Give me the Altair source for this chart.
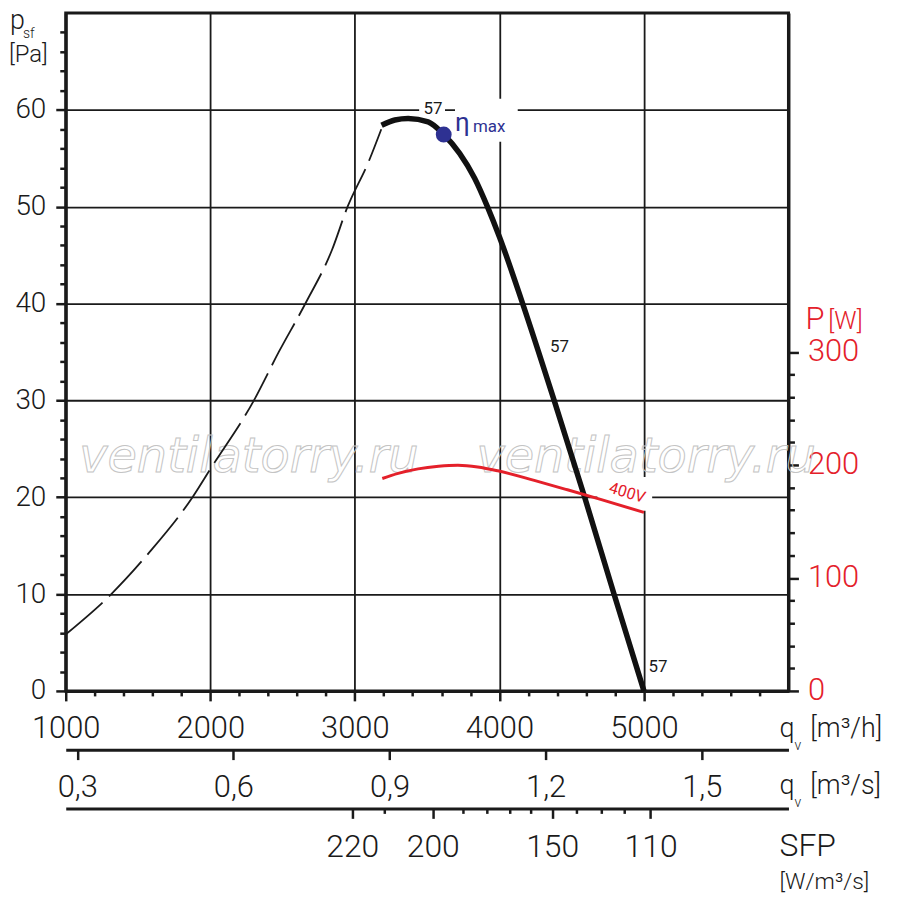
import altair as alt
import pandas as pd

# --- data ---------------------------------------------------------------------
# fan curve p_sf [Pa] over q_v [m3/h], solid (working) part
flow_solid = [3185, 3277, 3369, 3507, 3615, 3725, 3828, 3920, 4000, 4161, 4379, 4590, 4793, 5000]
pres_solid = [58.4, 58.95, 59.1, 58.75, 57.45, 55.5, 52.96, 49.9, 46.9, 40.0, 30.0, 20.0, 10.0, 0.0]

# dashed (stall) part
flow_dash = [1005, 1315, 1578, 1877, 2000, 2302, 2474, 2658, 2841, 2950, 3094, 3183]
pres_dash = [5.9, 10.0, 14.3, 20.0, 22.9, 30.0, 35.0, 40.0, 45.5, 50.0, 54.6, 58.0]

# input power P [W], 400V
flow_power = [3190, 3300, 3438, 3580, 3713, 3850, 3989, 4241, 4471, 4700, 5000]
power_w = [188, 192.5, 196.5, 198.8, 199.7, 198.2, 194.8, 186.3, 178.0, 169.5, 158.0]

# best efficiency point
eta_flow = [3615]
eta_pres = [57.45]

# secondary scales
qs_ticks = [0.3, 0.6, 0.9, 1.2, 1.5]  # m3/s
sfp_flow = [2982, 3202, 3539, 3745, 3911, 4069, 4213, 4365, 4530, 4702, 4867, 5046]
sfp_vals = [220, 210, 200, 190, 180, 170, 160, 150, 140, 130, 120, 110]
sfp_shown = [220, 200, 150, 110]

# "57" curve labels
lab57_flow = [3541, 4416, 5098]
lab57_pres = [60.1, 35.5, 2.5]

# white boxes behind labels (hide the grid there)
mask_x0 = [3445, 3693, 4678]
mask_x1 = [3624, 4127, 5057]
mask_y0 = [59.0, 56.7, 18.6]
mask_y1 = [61.15, 61.15, 22.1]

# watermark
wm_flow = [2267, 5015]
wm_pres = [24.0, 24.0]

# --- styling ------------------------------------------------------------------
W, H = 726, 681
INK = "#1a1a1a"
RED = "#e4202a"
BLUE = "#2e3192"
FONT = "Roboto"

x_scale = alt.Scale(domain=[1000, 6000], nice=False, zero=False)
y_scale = alt.Scale(domain=[0, 70], nice=False)

x_main = alt.X(
    "flow:Q", scale=x_scale, title=None,
    axis=alt.Axis(
        values=list(range(1000, 5801, 200)),
        labelExpr="datum.value % 1000 == 0 ? format(datum.value, 'd') : ''",
        tickSize={"condition": {"test": "datum.value % 1000 == 0", "value": 10}, "value": 5},
        grid=True,
        gridOpacity={"condition": {"test": "datum.value % 1000 == 0", "value": 1}, "value": 0},
        labelFontSize=31, labelPadding=13,
    ),
)
y_main = alt.Y(
    "pres:Q", scale=y_scale, title=None,
    axis=alt.Axis(
        values=list(range(0, 69, 2)),
        labelExpr="datum.value % 10 == 0 ? format(datum.value, 'd') : ''",
        tickSize={"condition": {"test": "datum.value % 10 == 0", "value": 10}, "value": 6},
        grid=True,
        gridOpacity={"condition": {"test": "datum.value % 10 == 0", "value": 1}, "value": 0},
        labelFontSize=28, labelPadding=10,
    ),
)


def px_text(text, x, y, size, color=INK):
    return alt.Chart(pd.DataFrame({"t": [text]})).mark_text(
        align="left", baseline="alphabetic", font=FONT, fontSize=size, fontWeight=300, color=color
    ).encode(x=alt.value(x), y=alt.value(y), text="t:N")


masks = alt.Chart(pd.DataFrame({"flow": mask_x0, "flow2": mask_x1, "pres": mask_y0, "pres2": mask_y1})).mark_rect(
    color="white"
).encode(x=x_main, x2="flow2:Q", y=y_main, y2="pres2:Q")

watermark = alt.Chart(pd.DataFrame({"flow": wm_flow, "pres": wm_pres, "t": ["ventilatorry.ru"] * 2})).mark_text(
    font="DejaVu Sans", fontStyle="italic", fontSize=48, fillOpacity=0, stroke="#c4c4c4", strokeWidth=1
).encode(x=x_main, y=y_main, text="t:N")

dashed = alt.Chart(pd.DataFrame({"flow": flow_dash, "pres": pres_dash})).mark_line(
    color=INK, strokeWidth=1.8, strokeDash=[48, 9], interpolate="monotone"
).encode(x=x_main, y=y_main)

solid = alt.Chart(pd.DataFrame({"flow": flow_solid, "pres": pres_solid})).mark_line(
    color="#111111", strokeWidth=5.5, interpolate="monotone"
).encode(x=x_main, y=y_main)

eta = alt.Chart(pd.DataFrame({"flow": eta_flow, "pres": eta_pres})).mark_circle(
    size=254, color=BLUE, opacity=1
).encode(x=x_main, y=y_main)

eta_text = alt.Chart(pd.DataFrame({"flow": [3693, 3817], "pres": [57.86, 57.76], "t": ["η", "max"], "s": [26, 17]})).mark_text(
    align="left", baseline="alphabetic", font=FONT, color=BLUE
).encode(x=x_main, y=y_main, text="t:N", size=alt.Size("s:Q", scale=None, legend=None))

lab57 = alt.Chart(pd.DataFrame({"flow": lab57_flow, "pres": lab57_pres, "t": ["57"] * 3})).mark_text(
    font=FONT, fontSize=17, color=INK
).encode(x=x_main, y=y_main, text="t:N")

lab400 = alt.Chart(pd.DataFrame({"flow": [4884], "pres": [20.45], "t": ["400V"]})).mark_text(
    font=FONT, fontSize=16, color=RED, angle=17
).encode(x=x_main, y=y_main, text="t:N")

titles = [
    px_text("p", -56, 16, 27),
    px_text("sf", -43, 25, 14),
    px_text("[Pa]", -57, 49, 24),
    px_text("P", 743, 317, 31, RED),
    px_text("[W]", 766, 317, 25, RED),
    px_text("q", 717, 727, 27),
    px_text("v", 732, 740, 14),
    px_text("[m³/h]", 748, 727, 27),
    px_text("q", 717, 785, 27),
    px_text("v", 732, 798, 14),
    px_text("[m³/s]", 748, 785, 27),
    px_text("SFP", 717, 847, 32),
    px_text("[W/m³/s]", 717, 880, 23),
]

main = alt.layer(masks, watermark, dashed, solid, eta, eta_text, lab57, lab400, *titles)

power = alt.Chart(pd.DataFrame({"flow": flow_power, "w": power_w})).mark_line(
    color=RED, strokeWidth=3, interpolate="monotone"
).encode(
    x=alt.X("flow:Q", scale=x_scale, axis=None),
    y=alt.Y(
        "w:Q", scale=alt.Scale(domain=[0, 600], nice=False), title=None,
        axis=alt.Axis(
            orient="right", values=list(range(0, 301, 20)),
            labelExpr="datum.value % 100 == 0 ? format(datum.value, 'd') : ''",
            tickSize={"condition": {"test": "datum.value % 100 == 0", "value": 10}, "value": 6},
            grid=False, labelColor=RED, labelFontSize=31, labelPadding=9,
        ),
    ),
)

qs_axis = alt.Chart(pd.DataFrame({"q": qs_ticks})).mark_point(opacity=0).encode(
    x=alt.X(
        "q:Q", scale=alt.Scale(domain=[1000 / 3600, 6000 / 3600], nice=False, zero=False), title=None,
        axis=alt.Axis(
            orient="bottom", offset=59, values=qs_ticks,
            labelExpr="replace(format(datum.value, '.1f'), '.', ',')",
            tickSize=10, grid=False, labelFontSize=31, labelPadding=13,
        ),
    ),
    y=alt.value(0),
)

sfp_expr = " : ".join(
    f"datum.value == {f} ? '{v}'" for f, v in zip(sfp_flow, sfp_vals) if v in sfp_shown
) + " : ''"
sfp_major = [f for f, v in zip(sfp_flow, sfp_vals) if v in sfp_shown]

sfp_axis = alt.Chart(pd.DataFrame({"flow": sfp_flow})).mark_point(opacity=0).encode(
    x=alt.X(
        "flow:Q", scale=x_scale, title=None,
        axis=alt.Axis(
            orient="bottom", offset=118, values=sfp_flow, labelExpr=sfp_expr,
            tickSize={"condition": {"test": f"indexof({sfp_major}, datum.value) >= 0", "value": 10}, "value": 5},
            grid=False, labelFontSize=32, labelPadding=13,
        ),
    ),
    y=alt.value(0),
)

chart = alt.layer(main, power, qs_axis, sfp_axis).resolve_scale(
    x="independent", y="independent"
).properties(
    width=W, height=H,
    autosize=alt.AutoSizeParams(type="none"),
    padding={"left": 58, "top": 3, "right": 104, "bottom": 205},
).configure_view(
    stroke=INK, strokeWidth=3
).configure_axis(
    domainColor=INK, domainWidth=3, tickColor=INK, tickWidth=2.5,
    gridColor=INK, gridWidth=1.8,
    labelColor=INK, labelFont=FONT, labelFontWeight=300,
    labelFlush=False, labelOverlap=False, labelBound=False,
)

chart.save("out.html", embed_options={"renderer": "svg", "actions": False})
